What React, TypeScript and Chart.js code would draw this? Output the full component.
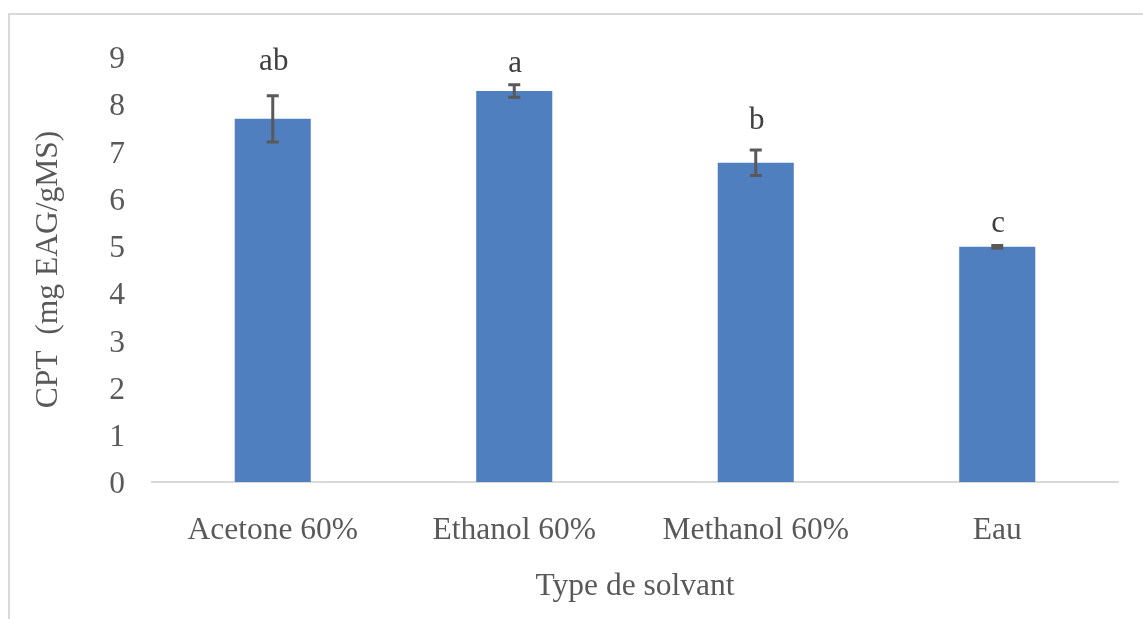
import React, { useEffect, useRef } from "react";
import { Chart, registerables } from "chart.js";

Chart.register(...registerables);

// Total phenolic content per extraction solvent
const solvents = ["Acetone 60%", "Ethanol 60%", "Methanol 60%", "Eau"];
const cptMeans = [7.69, 8.28, 6.76, 4.98];
const cptErrors = [0.49, 0.13, 0.27, 0.03];
// Significance groups and the value level at which each letter sits
const groupLetters = ["ab", "a", "b", "c"];
const letterLevels = [8.73, 8.69, 7.48, 5.3];
const yTicks = [0, 1, 2, 3, 4, 5, 6, 7, 8, 9];

const FONT = "'Liberation Serif', 'Times New Roman', serif";
const TEXT = "#595959";

const errorBarsPlugin = {
  id: "errorBarsAndLetters",
  afterDatasetsDraw(chart: any) {
    const { ctx } = chart;
    const meta = chart.getDatasetMeta(0);
    const y = chart.scales.y;
    ctx.save();
    meta.data.forEach((bar: any, i: number) => {
      const x = bar.x;
      const top = y.getPixelForValue(cptMeans[i] + cptErrors[i]);
      const bottom = y.getPixelForValue(cptMeans[i] - cptErrors[i]);
      ctx.strokeStyle = "#595959";
      ctx.lineWidth = 3;
      ctx.beginPath();
      ctx.moveTo(x, top);
      ctx.lineTo(x, bottom);
      ctx.moveTo(x - 6, top);
      ctx.lineTo(x + 6, top);
      ctx.moveTo(x - 6, bottom);
      ctx.lineTo(x + 6, bottom);
      ctx.stroke();

      ctx.fillStyle = "#404040";
      ctx.font = `31px ${FONT}`;
      ctx.textAlign = "center";
      ctx.textBaseline = "alphabetic";
      ctx.fillText(groupLetters[i], x + 1, y.getPixelForValue(letterLevels[i]));
    });
    ctx.restore();
  },
};

export default function App() {
  const canvasRef = useRef<HTMLCanvasElement | null>(null);

  useEffect(() => {
    document.body.style.margin = "0";
    const canvas = canvasRef.current;
    if (!canvas) return;
    const chart = new Chart(canvas, {
      type: "bar",
      data: {
        labels: solvents,
        datasets: [
          {
            data: cptMeans,
            backgroundColor: "#4F7FBE",
            borderWidth: 0,
            barPercentage: 0.315,
            categoryPercentage: 1,
          },
        ],
      },
      options: {
        animation: false,
        responsive: false,
        maintainAspectRatio: false,
        layout: { padding: { top: 57, right: 25, left: 0, bottom: 0 } },
        plugins: {
          legend: { display: false },
          tooltip: { enabled: false },
        },
        scales: {
          x: {
            grid: { display: false, drawTicks: false },
            border: { display: true, color: "#d9d9d9", width: 2 },
            ticks: {
              color: TEXT,
              font: { family: FONT, size: 31.5 },
              padding: 30,
              maxRotation: 0,
            },
            title: {
              display: true,
              text: "Type de solvant",
              color: TEXT,
              font: { family: FONT, size: 31.5 },
              padding: { top: 0, bottom: 13 },
            },
            afterFit(scale: any) {
              scale.height = 137;
            },
          },
          y: {
            min: 0,
            max: 9,
            grid: { display: false, drawTicks: false },
            border: { display: false },
            afterBuildTicks(scale: any) {
              scale.ticks = yTicks.map((v) => ({ value: v }));
            },
            ticks: {
              color: TEXT,
              font: { family: FONT, size: 31.5 },
              padding: 27,
              labelOffset: 3,
            },
            title: {
              display: true,
              text: "CPT  (mg EAG/gMS)",
              color: TEXT,
              font: { family: FONT, size: 31.5 },
              padding: { top: 30, bottom: 0 },
            },
            afterFit(scale: any) {
              scale.width = 152;
            },
          },
        },
      },
      plugins: [errorBarsPlugin],
    });
    return () => chart.destroy();
  }, []);

  return (
    <div
      style={{
        position: "relative",
        width: 1143,
        height: 619,
        overflow: "hidden",
        background: "#ffffff",
      }}
    >
      <div
        style={{
          position: "absolute",
          left: 8,
          top: 13,
          width: 1200,
          height: 700,
          borderLeft: "2px solid #d9d9d9",
          borderTop: "2px solid #d9d9d9",
        }}
      />
      <canvas
        ref={canvasRef}
        width={1143}
        height={619}
        style={{ position: "absolute", left: 0, top: 0, width: 1143, height: 619 }}
      />
    </div>
  );
}
